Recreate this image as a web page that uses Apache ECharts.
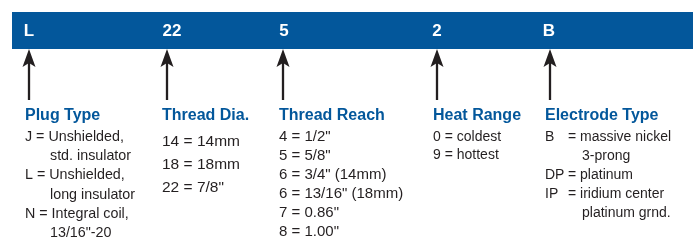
<!DOCTYPE html>
<html>
<head>
<meta charset="utf-8">
<script src="https://cdn.jsdelivr.net/npm/echarts@6/dist/echarts.min.js"></script>
<style>
  html, body { margin: 0; padding: 0; background: #fff; }
  #chart { width: 699px; height: 241px; }
</style>
</head>
<body>
<div id="chart"></div>
<script>
// code segments shown in the blue band
var codes = ['L', '22', '5', '2', 'B'];
var headings = ['Plug Type', 'Thread Dia.', 'Thread Reach', 'Heat Range', 'Electrode Type'];
// each entry: [key, value, continuation lines...]
var plugTypes = [
  ['J', 'Unshielded,', 'std. insulator'],
  ['L', 'Unshielded,', 'long insulator'],
  ['N', 'Integral coil,', '13/16"-20']
];
var threadDia = [['14', '14mm'], ['18', '18mm'], ['22', '7/8"']];
var threadReach = [
  ['4', '1/2"'], ['5', '5/8"'], ['6', '3/4" (14mm)'],
  ['6', '13/16" (18mm)'], ['7', '0.86"'], ['8', '1.00"']
];
var heatRange = [['0', 'coldest'], ['9', 'hottest']];
var electrodeTypes = [
  ['B', 'massive nickel', '3-prong'],
  ['DP', 'platinum'],
  ['IP', 'iridium center', 'platinum grnd.']
];
var columns = [plugTypes, threadDia, threadReach, heatRange, electrodeTypes];

// layout
var codeX = [29, 172, 284, 437, 549];
var arrowX = [29, 167, 283, 437, 550];
var colX = [25, 162, 279, 433, 545];
var firstY = [137, 142, 137, 137, 137];
var lineH = [19.2, 22.7, 19.0, 18.5, 19.0];
var fontSize = [14.3, 15.5, 15, 14, 14];
var eqGap = [0, 0, 0, 0, 23];     // fixed "=" column (0 = inline)
var indent = [25, 0, 0, 0, 37];

var BLUE = '#03579b';
var INK = '#231f20';
var FONT = '"Liberation Sans", Arial, sans-serif';

var chart = echarts.init(document.getElementById('chart'));
var g = [];

function txt(x, y, s, font, fill, align) {
  return { type: 'text', x: x, y: y, style: {
    text: s, fill: fill, font: font, align: align || 'left', verticalAlign: 'middle' } };
}

g.push({ type: 'rect', shape: { x: 12, y: 12, width: 681, height: 37 }, style: { fill: BLUE } });

codes.forEach(function (c, i) {
  g.push(txt(codeX[i], 31, c, 'bold 17px ' + FONT, '#fff', 'center'));
});

arrowX.forEach(function (x) {
  g.push({ type: 'line', shape: { x1: x, y1: 60, x2: x, y2: 100 }, style: { stroke: INK, lineWidth: 2.3 } });
  g.push({ type: 'polygon', shape: { points: [[x, 49], [x - 6.5, 67], [x, 63], [x + 6.5, 67]] }, style: { fill: INK } });
});

headings.forEach(function (h, i) {
  g.push(txt(colX[i], 116, h, 'bold 16px ' + FONT, BLUE));
});

columns.forEach(function (entries, i) {
  var y = firstY[i];
  var f = fontSize[i] + 'px ' + FONT;
  entries.forEach(function (e) {
    var x = colX[i];
    if (eqGap[i]) {
      g.push(txt(x, y, e[0], f, INK));
      g.push(txt(x + eqGap[i], y, '= ' + e[1], f, INK));
    } else {
      g.push(txt(x, y, e[0] + ' = ' + e[1], f, INK));
    }
    y += lineH[i];
    for (var k = 2; k < e.length; k++) {
      g.push(txt(x + indent[i], y, e[k], f, INK));
      y += lineH[i];
    }
  });
});

chart.setOption({ animation: false, graphic: g });
</script>
</body>
</html>
